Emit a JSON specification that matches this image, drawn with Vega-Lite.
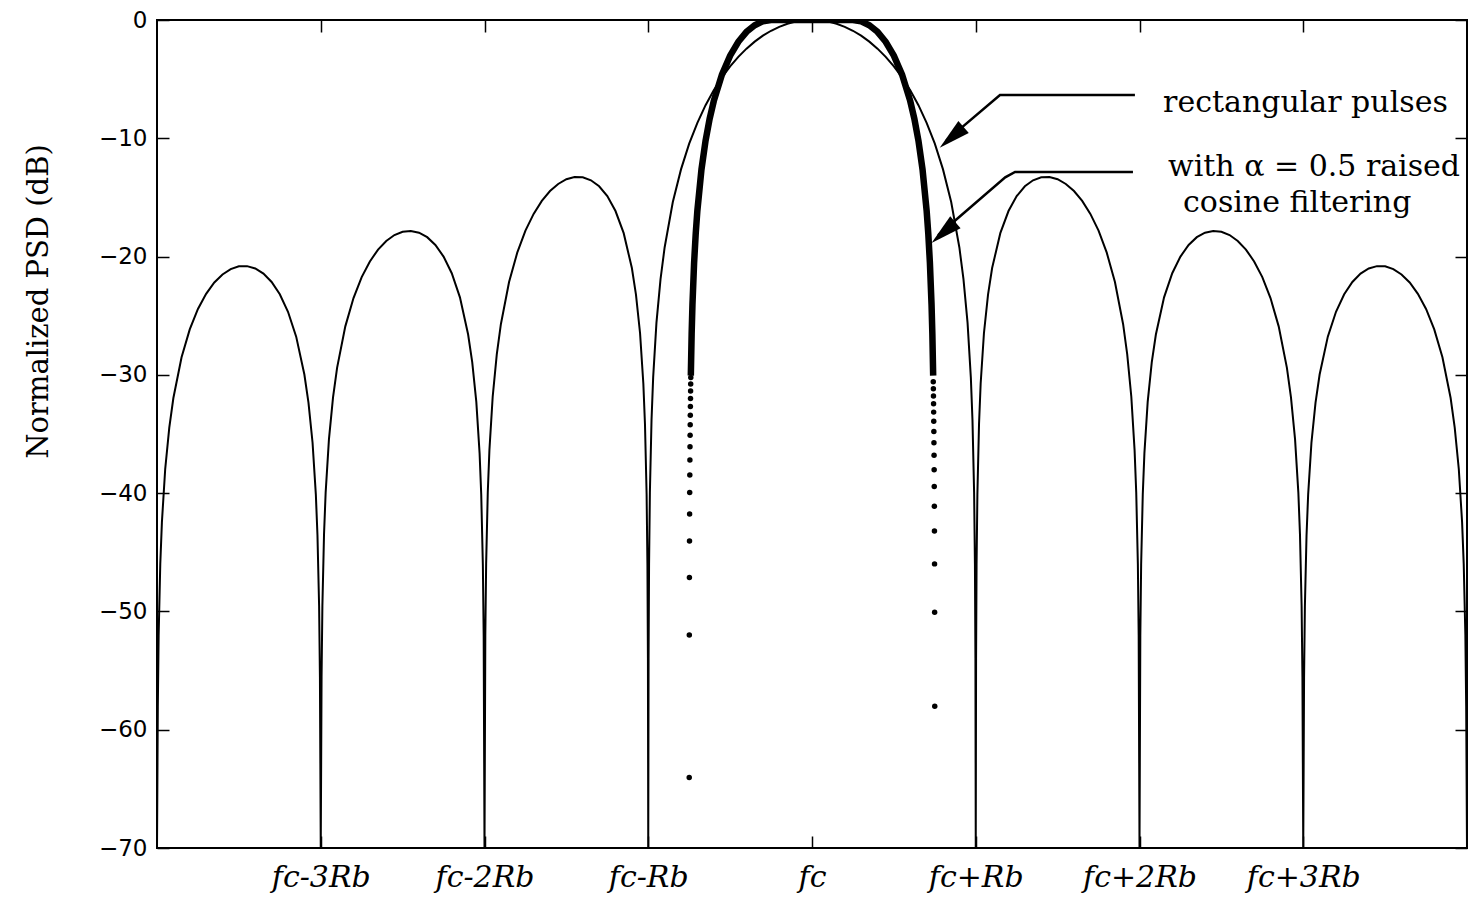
{
  "$schema": "https://vega.github.io/schema/vega-lite/v6.json",
  "width": 1310,
  "height": 828,
  "autosize": {"type": "none"},
  "padding": {"left": 157, "top": 20, "right": 3, "bottom": 52},
  "background": "white",
  "config": {
    "view": {"stroke": "black", "strokeWidth": 2},
    "axis": {"domain": false, "grid": false, "tickColor": "black", "tickWidth": 1.5, "labelColor": "black", "titleColor": "black"}
  },
  "datasets": {
    "rect": [
      {"f": -4, "db": -70}, {"f": -3.995, "db": -58.05}, {"f": -3.99, "db": -52.02}, {"f": -3.98, "db": -45.98}, {"f": -3.97, "db": -42.45}, {"f": -3.95, "db": -37.98}, {"f": -3.925, "db": -34.46}, {"f": -3.9, "db": -31.96}, {"f": -3.85, "db": -28.51}, {"f": -3.8, "db": -26.16}, {"f": -3.75, "db": -24.43}, {"f": -3.7, "db": -23.15}, {"f": -3.65, "db": -22.19}, {"f": -3.6, "db": -21.51}, {"f": -3.55, "db": -21.06}, {"f": -3.5, "db": -20.82}, {"f": -3.45, "db": -20.81}, {"f": -3.4, "db": -21.01}, {"f": -3.35, "db": -21.44}, {"f": -3.3, "db": -22.15}, {"f": -3.25, "db": -23.19}, {"f": -3.2, "db": -24.67}, {"f": -3.15, "db": -26.77}, {"f": -3.1, "db": -29.97}, {"f": -3.075, "db": -32.34}, {"f": -3.05, "db": -35.74}, {"f": -3.03, "db": -40.1}, {"f": -3.02, "db": -43.58}, {"f": -3.01, "db": -49.57}, {"f": -3.005, "db": -55.58},
      {"f": -3, "db": -70}, {"f": -2.995, "db": -55.55}, {"f": -2.99, "db": -49.52}, {"f": -2.98, "db": -43.47}, {"f": -2.97, "db": -39.93}, {"f": -2.95, "db": -35.45}, {"f": -2.925, "db": -31.91}, {"f": -2.9, "db": -29.39}, {"f": -2.85, "db": -25.9}, {"f": -2.8, "db": -23.51}, {"f": -2.75, "db": -21.74}, {"f": -2.7, "db": -20.41}, {"f": -2.65, "db": -19.41}, {"f": -2.6, "db": -18.68}, {"f": -2.55, "db": -18.18}, {"f": -2.5, "db": -17.9}, {"f": -2.45, "db": -17.83}, {"f": -2.4, "db": -17.98}, {"f": -2.35, "db": -18.36}, {"f": -2.3, "db": -19.02}, {"f": -2.25, "db": -20.0}, {"f": -2.2, "db": -21.41}, {"f": -2.15, "db": -23.45}, {"f": -2.1, "db": -26.59}, {"f": -2.075, "db": -28.92}, {"f": -2.05, "db": -32.29}, {"f": -2.03, "db": -36.62}, {"f": -2.02, "db": -40.09}, {"f": -2.01, "db": -46.07}, {"f": -2.005, "db": -52.07},
      {"f": -2, "db": -70}, {"f": -1.995, "db": -52.02}, {"f": -1.99, "db": -45.98}, {"f": -1.98, "db": -39.92}, {"f": -1.97, "db": -36.36}, {"f": -1.95, "db": -31.85}, {"f": -1.925, "db": -28.27}, {"f": -1.9, "db": -25.72}, {"f": -1.85, "db": -22.15}, {"f": -1.8, "db": -19.67}, {"f": -1.75, "db": -17.81}, {"f": -1.7, "db": -16.39}, {"f": -1.65, "db": -15.29}, {"f": -1.6, "db": -14.46}, {"f": -1.55, "db": -13.86}, {"f": -1.5, "db": -13.46}, {"f": -1.45, "db": -13.28}, {"f": -1.4, "db": -13.3}, {"f": -1.35, "db": -13.55}, {"f": -1.3, "db": -14.06}, {"f": -1.25, "db": -14.89}, {"f": -1.2, "db": -16.15}, {"f": -1.15, "db": -18.02}, {"f": -1.1, "db": -20.97}, {"f": -1.075, "db": -23.21}, {"f": -1.05, "db": -26.48}, {"f": -1.03, "db": -30.73}, {"f": -1.02, "db": -34.16}, {"f": -1.01, "db": -40.09}, {"f": -1.005, "db": -46.07}, {"f": -1.002, "db": -54.0},
      {"f": -1, "db": -70}, {"f": -0.998, "db": -53.96}, {"f": -0.995, "db": -45.98}, {"f": -0.99, "db": -39.92}, {"f": -0.98, "db": -33.81}, {"f": -0.97, "db": -30.21}, {"f": -0.95, "db": -25.61}, {"f": -0.925, "db": -21.91}, {"f": -0.9, "db": -19.23}, {"f": -0.85, "db": -15.39}, {"f": -0.8, "db": -12.63}, {"f": -0.75, "db": -10.45}, {"f": -0.7, "db": -8.69}, {"f": -0.65, "db": -7.2}, {"f": -0.6, "db": -5.94}, {"f": -0.55, "db": -4.86}, {"f": -0.5, "db": -3.92}, {"f": -0.45, "db": -3.12}, {"f": -0.4, "db": -2.42}, {"f": -0.35, "db": -1.83}, {"f": -0.3, "db": -1.32}, {"f": -0.25, "db": -0.91}, {"f": -0.2, "db": -0.58}, {"f": -0.15, "db": -0.32}, {"f": -0.1, "db": -0.14}, {"f": -0.05, "db": -0.04},
      {"f": 0, "db": 0},
      {"f": 0.05, "db": -0.04}, {"f": 0.1, "db": -0.14}, {"f": 0.15, "db": -0.32}, {"f": 0.2, "db": -0.58}, {"f": 0.25, "db": -0.91}, {"f": 0.3, "db": -1.32}, {"f": 0.35, "db": -1.83}, {"f": 0.4, "db": -2.42}, {"f": 0.45, "db": -3.12}, {"f": 0.5, "db": -3.92}, {"f": 0.55, "db": -4.86}, {"f": 0.6, "db": -5.94}, {"f": 0.65, "db": -7.2}, {"f": 0.7, "db": -8.69}, {"f": 0.75, "db": -10.45}, {"f": 0.8, "db": -12.63}, {"f": 0.85, "db": -15.39}, {"f": 0.9, "db": -19.23}, {"f": 0.925, "db": -21.91}, {"f": 0.95, "db": -25.61}, {"f": 0.97, "db": -30.21}, {"f": 0.98, "db": -33.81}, {"f": 0.99, "db": -39.92}, {"f": 0.995, "db": -45.98}, {"f": 0.998, "db": -53.96},
      {"f": 1, "db": -70}, {"f": 1.002, "db": -54.0}, {"f": 1.005, "db": -46.07}, {"f": 1.01, "db": -40.09}, {"f": 1.02, "db": -34.16}, {"f": 1.03, "db": -30.73}, {"f": 1.05, "db": -26.48}, {"f": 1.075, "db": -23.21}, {"f": 1.1, "db": -20.97}, {"f": 1.15, "db": -18.02}, {"f": 1.2, "db": -16.15}, {"f": 1.25, "db": -14.89}, {"f": 1.3, "db": -14.06}, {"f": 1.35, "db": -13.55}, {"f": 1.4, "db": -13.3}, {"f": 1.45, "db": -13.28}, {"f": 1.5, "db": -13.46}, {"f": 1.55, "db": -13.86}, {"f": 1.6, "db": -14.46}, {"f": 1.65, "db": -15.29}, {"f": 1.7, "db": -16.39}, {"f": 1.75, "db": -17.81}, {"f": 1.8, "db": -19.67}, {"f": 1.85, "db": -22.15}, {"f": 1.9, "db": -25.72}, {"f": 1.925, "db": -28.27}, {"f": 1.95, "db": -31.85}, {"f": 1.97, "db": -36.36}, {"f": 1.98, "db": -39.92}, {"f": 1.99, "db": -45.98}, {"f": 1.995, "db": -52.02},
      {"f": 2, "db": -70}, {"f": 2.005, "db": -52.07}, {"f": 2.01, "db": -46.07}, {"f": 2.02, "db": -40.09}, {"f": 2.03, "db": -36.62}, {"f": 2.05, "db": -32.29}, {"f": 2.075, "db": -28.92}, {"f": 2.1, "db": -26.59}, {"f": 2.15, "db": -23.45}, {"f": 2.2, "db": -21.41}, {"f": 2.25, "db": -20.0}, {"f": 2.3, "db": -19.02}, {"f": 2.35, "db": -18.36}, {"f": 2.4, "db": -17.98}, {"f": 2.45, "db": -17.83}, {"f": 2.5, "db": -17.9}, {"f": 2.55, "db": -18.18}, {"f": 2.6, "db": -18.68}, {"f": 2.65, "db": -19.41}, {"f": 2.7, "db": -20.41}, {"f": 2.75, "db": -21.74}, {"f": 2.8, "db": -23.51}, {"f": 2.85, "db": -25.9}, {"f": 2.9, "db": -29.39}, {"f": 2.925, "db": -31.91}, {"f": 2.95, "db": -35.45}, {"f": 2.97, "db": -39.93}, {"f": 2.98, "db": -43.47}, {"f": 2.99, "db": -49.52}, {"f": 2.995, "db": -55.55},
      {"f": 3, "db": -70}, {"f": 3.005, "db": -55.58}, {"f": 3.01, "db": -49.57}, {"f": 3.02, "db": -43.58}, {"f": 3.03, "db": -40.1}, {"f": 3.05, "db": -35.74}, {"f": 3.075, "db": -32.34}, {"f": 3.1, "db": -29.97}, {"f": 3.15, "db": -26.77}, {"f": 3.2, "db": -24.67}, {"f": 3.25, "db": -23.19}, {"f": 3.3, "db": -22.15}, {"f": 3.35, "db": -21.44}, {"f": 3.4, "db": -21.01}, {"f": 3.45, "db": -20.81}, {"f": 3.5, "db": -20.82}, {"f": 3.55, "db": -21.06}, {"f": 3.6, "db": -21.51}, {"f": 3.65, "db": -22.19}, {"f": 3.7, "db": -23.15}, {"f": 3.75, "db": -24.43}, {"f": 3.8, "db": -26.16}, {"f": 3.85, "db": -28.51}, {"f": 3.9, "db": -31.96}, {"f": 3.925, "db": -34.46}, {"f": 3.95, "db": -37.98}, {"f": 3.97, "db": -42.45}, {"f": 3.98, "db": -45.98}, {"f": 3.99, "db": -52.02}, {"f": 3.995, "db": -58.05}, {"f": 4, "db": -70}
    ],
    "rc": [
      {"f": -0.74, "db": -30.06}, {"f": -0.735, "db": -26.54}, {"f": -0.73, "db": -24.04}, {"f": -0.72, "db": -20.53}, {"f": -0.71, "db": -18.04}, {"f": -0.7, "db": -16.11}, {"f": -0.675, "db": -12.64}, {"f": -0.65, "db": -10.2}, {"f": -0.625, "db": -8.34}, {"f": -0.6, "db": -6.86}, {"f": -0.55, "db": -4.62}, {"f": -0.5, "db": -3.01}, {"f": -0.45, "db": -1.84}, {"f": -0.4, "db": -1.0}, {"f": -0.35, "db": -0.44}, {"f": -0.3, "db": -0.11}, {"f": -0.25, "db": 0},
      {"f": 0.25, "db": 0}, {"f": 0.3, "db": -0.11}, {"f": 0.35, "db": -0.44}, {"f": 0.4, "db": -1.0}, {"f": 0.45, "db": -1.84}, {"f": 0.5, "db": -3.01}, {"f": 0.55, "db": -4.62}, {"f": 0.6, "db": -6.86}, {"f": 0.625, "db": -8.34}, {"f": 0.65, "db": -10.2}, {"f": 0.675, "db": -12.64}, {"f": 0.7, "db": -16.11}, {"f": 0.71, "db": -18.04}, {"f": 0.72, "db": -20.53}, {"f": 0.73, "db": -24.04}, {"f": 0.735, "db": -26.54}, {"f": 0.74, "db": -30.06}
    ],
    "rcdots": [
      {"f": -0.7498, "db": -64.04}, {"f": -0.7492, "db": -52.0}, {"f": -0.7486, "db": -47.13}, {"f": -0.748, "db": -44.04}, {"f": -0.7474, "db": -41.76}, {"f": -0.7468, "db": -39.95}, {"f": -0.7462, "db": -38.46}, {"f": -0.7456, "db": -37.19}, {"f": -0.745, "db": -36.08}, {"f": -0.7444, "db": -35.1}, {"f": -0.7438, "db": -34.21}, {"f": -0.7432, "db": -33.41}, {"f": -0.7426, "db": -32.67}, {"f": -0.742, "db": -31.99}, {"f": -0.7414, "db": -31.37}, {"f": -0.7408, "db": -30.78}, {"f": -0.7402, "db": -30.23},
      {"f": 0.7496, "db": -58.02}, {"f": 0.749, "db": -50.06}, {"f": 0.7484, "db": -45.98}, {"f": 0.7478, "db": -43.21}, {"f": 0.7472, "db": -41.11}, {"f": 0.7466, "db": -39.43}, {"f": 0.746, "db": -38.02}, {"f": 0.7454, "db": -36.8}, {"f": 0.7448, "db": -35.74}, {"f": 0.7442, "db": -34.79}, {"f": 0.7436, "db": -33.93}, {"f": 0.743, "db": -33.15}, {"f": 0.7424, "db": -32.44}, {"f": 0.7418, "db": -31.78}, {"f": 0.7412, "db": -31.17}, {"f": 0.7406, "db": -30.59}
    ],
    "arrows": [
      {"g": "a", "o": 1, "f": 1.972, "db": -6.34}, {"g": "a", "o": 2, "f": 1.148, "db": -6.34}, {"g": "a", "o": 3, "f": 0.82, "db": -10.2},
      {"g": "b", "o": 1, "f": 1.96, "db": -12.85}, {"g": "b", "o": 2, "f": 1.24, "db": -12.85}, {"g": "b", "o": 3, "f": 1.18, "db": -13.3}, {"g": "b", "o": 4, "f": 0.77, "db": -18.2}
    ],
    "heads": [
      {"f": 0.78, "db": -10.8}, {"f": 0.73, "db": -18.85}
    ],
    "notes": [
      {"f": 2.144, "db": -7.78, "t": "rectangular pulses"},
      {"f": 2.174, "db": -13.19, "t": "with α = 0.5 raised"},
      {"f": 2.266, "db": -16.23, "t": "cosine filtering"}
    ]
  },
  "layer": [
    {
      "data": {"name": "rect"},
      "mark": {"type": "line", "color": "black", "strokeWidth": 2, "clip": true},
      "encoding": {
        "x": {"field": "f", "type": "quantitative", "scale": {"domain": [-4, 4], "nice": false, "zero": false},
          "axis": {"orient": "bottom", "title": null, "values": [-3, -2, -1, 0, 1, 2, 3], "tickSize": -12, "labelPadding": 26,
            "labelExpr": "datum.value == 0 ? 'fc' : (datum.value < 0 ? (datum.value == -1 ? 'fc-Rb' : 'fc' + datum.value + 'Rb') : (datum.value == 1 ? 'fc+Rb' : 'fc+' + datum.value + 'Rb'))",
            "labelFont": "DejaVu Serif", "labelFontStyle": "italic", "labelFontSize": 30, "labelBaseline": "top", "labelFlush": false}},
        "y": {"field": "db", "type": "quantitative", "scale": {"domain": [-70, 0], "nice": false, "zero": false},
          "axis": {"orient": "left", "values": [0, -10, -20, -30, -40, -50, -60, -70], "tickSize": -12, "labelPadding": 22,
            "labelFont": "DejaVu Sans", "labelFontSize": 23, "labelFlush": false,
            "title": "Normalized PSD (dB)", "titleFont": "DejaVu Serif", "titleFontSize": 29, "titleFontWeight": "normal",
            "titleX": -119, "titleY": 281, "titleAngle": 270, "titleAlign": "center", "titleBaseline": "middle"}}
      }
    },
    {
      "data": {"name": "rc"},
      "mark": {"type": "line", "color": "black", "strokeWidth": 6.5, "clip": true},
      "encoding": {
        "x": {"field": "f", "type": "quantitative", "scale": {"domain": [-4, 4], "nice": false, "zero": false},
          "axis": {"orient": "top", "title": null, "labels": false, "values": [-3, -2, -1, 0, 1, 2, 3], "tickSize": -12}},
        "y": {"field": "db", "type": "quantitative", "scale": {"domain": [-70, 0], "nice": false, "zero": false},
          "axis": {"orient": "right", "title": null, "labels": false, "values": [0, -10, -20, -30, -40, -50, -60, -70], "tickSize": -12}}
      }
    },
    {
      "data": {"name": "rcdots"},
      "mark": {"type": "point", "filled": true, "color": "black", "size": 30, "opacity": 1},
      "encoding": {
        "x": {"field": "f", "type": "quantitative", "axis": null},
        "y": {"field": "db", "type": "quantitative", "axis": null}
      }
    },
    {
      "data": {"name": "arrows"},
      "mark": {"type": "line", "color": "black", "strokeWidth": 2.5},
      "encoding": {
        "x": {"field": "f", "type": "quantitative", "axis": null},
        "y": {"field": "db", "type": "quantitative", "axis": null},
        "detail": {"field": "g"},
        "order": {"field": "o", "type": "quantitative"}
      }
    },
    {
      "data": {"name": "heads"},
      "mark": {"type": "point", "shape": "M0,0L0.5,2L-0.5,2Z", "filled": true, "color": "black", "opacity": 1, "size": 1000, "angle": 229},
      "encoding": {
        "x": {"field": "f", "type": "quantitative", "axis": null},
        "y": {"field": "db", "type": "quantitative", "axis": null}
      }
    },
    {
      "data": {"name": "notes"},
      "mark": {"type": "text", "align": "left", "baseline": "alphabetic", "font": "DejaVu Serif", "fontSize": 30, "color": "black"},
      "encoding": {
        "x": {"field": "f", "type": "quantitative", "axis": null},
        "y": {"field": "db", "type": "quantitative", "axis": null},
        "text": {"field": "t"}
      }
    }
  ],
  "resolve": {"axis": {"x": "independent", "y": "independent"}}
}
